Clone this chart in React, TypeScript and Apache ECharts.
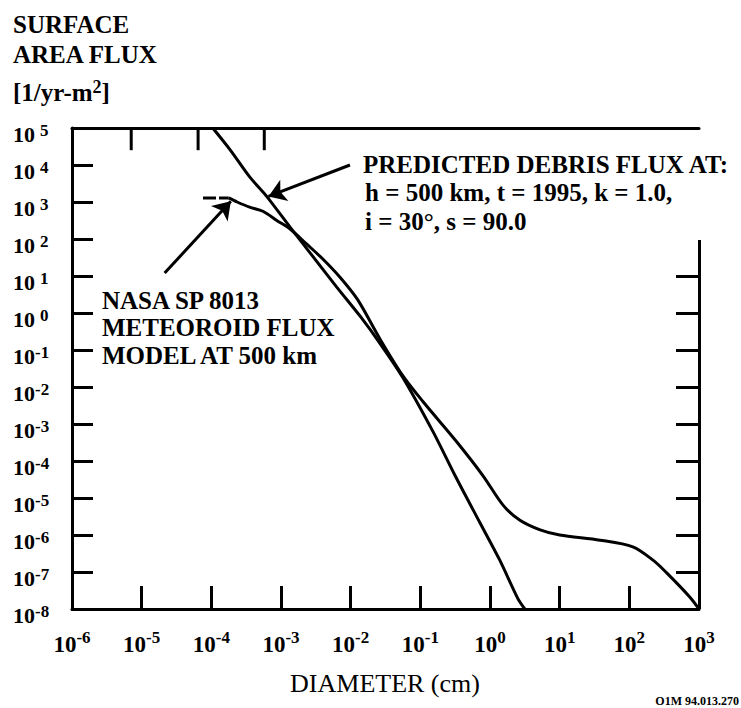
import { useEffect, useRef } from 'react';
import * as echarts from 'echarts';

const FONT = '"Liberation Serif", "Times New Roman", serif';

// Tick/label exponents (powers of ten)
const xLabelExps = [-6, -5, -4, -3, -2, -1, 0, 1, 2, 3];
const xBottomTicks = [-5, -4, -3, -2, -1, 0, 1, 2];
const xTopTicks = [-5.15, -4.19, -3.24];
const topTickLen = 0.6;
const yLabelExps = [5, 4, 3, 2, 1, 0, -1, -2, -3, -4, -5, -6, -7, -8];
const yLeftTicks = [4, 3, 2, 1, 0, -1, -2, -3, -4, -5, -6, -7];
const yRightTicks = [1, 0, -1, -2, -3, -4, -5, -6, -7];
const rightAxisTop = 1.97;

// Predicted debris flux (log10 diameter cm, log10 flux)
const debrisLogD = [-3.98, -3.73, -3.45, -3.2, -2.87, -2.58, -2.2, -1.85, -1.58, -1.25, -0.82, -0.5, -0.15, 0.14, 0.4, 0.5];
const debrisLogF = [5.0, 4.41, 3.68, 3.14, 2.32, 1.62, 0.7, -0.12, -0.82, -1.75, -3.2, -4.4, -5.65, -6.68, -7.72, -8.0];

// NASA SP 8013 meteoroid flux
const meteorDashLogD = [-4.12, -3.75];
const meteorDashLogF = [3.11, 3.11];
const meteorLogD = [-3.75, -3.63, -3.45, -3.26, -3.06, -2.87, -2.63, -2.4, -2.15, -1.9, -1.58, -1.25, -0.96, -0.47, -0.1, 0.19, 0.43, 0.72, 1.0, 1.58, 2.05, 2.34, 2.54, 2.87, 3.0];
const meteorLogF = [3.11, 3.0, 2.86, 2.75, 2.5, 2.27, 1.86, 1.46, 0.96, 0.36, -0.7, -1.7, -2.4, -3.5, -4.4, -5.2, -5.6, -5.86, -6.0, -6.14, -6.32, -6.68, -7.03, -7.68, -8.0];

// Arrows (tail -> head), log coordinates
const debrisArrow = [[-2.01, 4.0], [-3.18, 3.15]];
const meteorArrow = [[-4.67, 1.08], [-3.72, 3.02]];

const titleLines = ['SURFACE', 'AREA FLUX'];
const debrisNote = ['PREDICTED DEBRIS FLUX AT:', 'h = 500 km, t = 1995, k = 1.0,', 'i = 30°, s = 90.0'];
const meteorNote = ['NASA SP 8013', 'METEOROID FLUX', 'MODEL AT 500 km'];
const xTitle = 'DIAMETER (cm)';
const figId = 'O1M 94.013.270';

function zip(a: number[], b: number[]) {
  return a.map((v, i) => [v, b[i]]);
}

export default function App() {
  const ref = useRef<HTMLDivElement>(null);
  useEffect(() => {
    if (!ref.current) return;
    const chart = echarts.init(ref.current, null, { renderer: 'svg' });
    const black = '#000';
    const noteStyle = (t: string, x: number, y: number) => ({
      type: 'text',
      x,
      y,
      style: { text: t, fill: black, font: `bold 25px ${FONT}`, verticalAlign: 'middle', align: 'left' },
    });
    const baseGraphic: any[] = [
      noteStyle(titleLines[0], 13, 24),
      noteStyle(titleLines[1], 13, 54),
      {
        type: 'text',
        x: 13,
        y: 91,
        style: {
          text: '{b|[1/yr-m}{s|2}{b|]}',
          verticalAlign: 'middle',
          rich: {
            b: { font: `bold 25px ${FONT}`, fill: black, verticalAlign: 'bottom' },
            s: { font: `bold 18px ${FONT}`, fill: black, padding: [0, 0, 9, 0], verticalAlign: 'bottom' },
          },
        },
      },
      noteStyle(debrisNote[0], 363, 164),
      noteStyle(debrisNote[1], 365, 192),
      noteStyle(debrisNote[2], 365, 221),
      noteStyle(meteorNote[0], 102, 300),
      noteStyle(meteorNote[1], 102, 327),
      noteStyle(meteorNote[2], 102, 355),
      {
        type: 'text',
        x: 385,
        y: 683,
        style: { text: xTitle, fill: black, font: `26px ${FONT}`, align: 'center', verticalAlign: 'middle' },
      },
      {
        type: 'text',
        x: 739,
        y: 701,
        style: { text: figId, fill: black, font: `bold 12px ${FONT}`, align: 'right', verticalAlign: 'middle' },
      },
    ];
    const option: any = {
      animation: false,
      backgroundColor: '#fff',
      textStyle: { fontFamily: FONT },
      grid: { left: 72, right: 42, top: 128, bottom: 99, containLabel: false },
      xAxis: [
        {
          type: 'value',
          min: -6,
          max: 3,
          interval: 1,
          position: 'bottom',
          axisLine: { show: true, onZero: false, lineStyle: { color: black, width: 3 } },
          axisTick: { show: true, inside: true, length: 23, lineStyle: { color: black, width: 3 }, customValues: xBottomTicks },
          splitLine: { show: false },
          axisLabel: {
            margin: 20,
            customValues: xLabelExps,
            formatter: (v: number) => `{b|10}{s|${v}}`,
            rich: {
              b: { fontSize: 23, fontWeight: 'bold', fontFamily: FONT, color: black, verticalAlign: 'bottom' },
              s: { fontSize: 17, fontWeight: 'bold', fontFamily: FONT, color: black, padding: [0, 0, 10, 0], verticalAlign: 'bottom' },
            },
          },
        },
        {
          type: 'value',
          min: -6,
          max: 3,
          interval: 1,
          position: 'top',
          axisLine: { show: true, onZero: false, lineStyle: { color: black, width: 3 } },
          axisTick: { show: false },
          splitLine: { show: false },
          axisLabel: { show: false },
        },
      ],
      yAxis: [
        {
          type: 'value',
          min: -8,
          max: 5,
          interval: 1,
          position: 'left',
          axisLine: { show: true, onZero: false, lineStyle: { color: black, width: 3 } },
          axisTick: { show: true, inside: true, length: 21, lineStyle: { color: black, width: 3 }, customValues: yLeftTicks },
          splitLine: { show: false },
          axisLabel: {
            align: 'left',
            margin: 59,
            customValues: yLabelExps,
            formatter: (v: number) => (v >= 0 ? `{b|10}{p|${v}}` : `{b|10}{s|${v}}`),
            rich: {
              b: { fontSize: 22, fontWeight: 'bold', fontFamily: FONT, color: black, verticalAlign: 'bottom', padding: [12, 0, 0, 0] },
              s: { fontSize: 17, fontWeight: 'bold', fontFamily: FONT, color: black, padding: [0, 0, 6, 0], verticalAlign: 'bottom' },
              p: { fontSize: 17, fontWeight: 'bold', fontFamily: FONT, color: black, padding: [0, 0, 6, 5], verticalAlign: 'bottom' },
            },
          },
        },
        {
          type: 'value',
          min: -8,
          max: 5,
          interval: 1,
          position: 'right',
          axisLine: { show: false, onZero: false },
          axisTick: { show: true, inside: true, length: 23, lineStyle: { color: black, width: 3 }, customValues: yRightTicks },
          splitLine: { show: false },
          axisLabel: { show: false },
        },
      ],
      series: [
        {
          type: 'line',
          name: 'debris',
          data: zip(debrisLogD, debrisLogF),
          showSymbol: false,
          smooth: 0.3,
          lineStyle: { color: black, width: 3 },
        },
        {
          type: 'line',
          name: 'meteoroid',
          data: zip(meteorLogD, meteorLogF),
          showSymbol: false,
          smooth: 0.3,
          clip: false,
          lineStyle: { color: black, width: 3 },
        },
        {
          type: 'line',
          name: 'meteoroid-dash',
          data: zip(meteorDashLogD, meteorDashLogF),
          showSymbol: false,
          lineStyle: { color: black, width: 3, type: [13, 3] },
        },
        {
          type: 'lines',
          name: 'frame',
          coordinateSystem: 'cartesian2d',
          symbol: 'none',
          silent: true,
          lineStyle: { color: black, width: 3, opacity: 1 },
          data: [{ coords: [[3, rightAxisTop], [3, -8]] }],
        },
        {
          type: 'lines',
          name: 'arrows',
          coordinateSystem: 'cartesian2d',
          symbol: ['none', 'arrow'],
          symbolSize: [0, 17],
          lineStyle: { color: black, width: 3, opacity: 1 },
          data: [{ coords: debrisArrow }, { coords: meteorArrow }],
        },
      ],
      graphic: baseGraphic,
    };
    chart.setOption(option);
    // Top-edge ticks, placed through the chart's own scales
    const tickGraphics = xTopTicks.map((t, i) => {
      const p1 = chart.convertToPixel({ xAxisIndex: 0, yAxisIndex: 0 }, [t, 5]) as number[];
      const p2 = chart.convertToPixel({ xAxisIndex: 0, yAxisIndex: 0 }, [t, 5 - topTickLen]) as number[];
      return {
        id: 'topTick' + i,
        type: 'rect',
        shape: { x: p1[0] - 1.5, y: p1[1], width: 3, height: p2[1] - p1[1] },
        style: { fill: black },
        z: 100,
      };
    });
    chart.setOption({ graphic: [...baseGraphic, ...tickGraphics] });
    return () => chart.dispose();
  }, []);
  return <div ref={ref} style={{ position: 'fixed', left: 0, top: 0, width: 741, height: 708, background: '#fff' }} />;
}
